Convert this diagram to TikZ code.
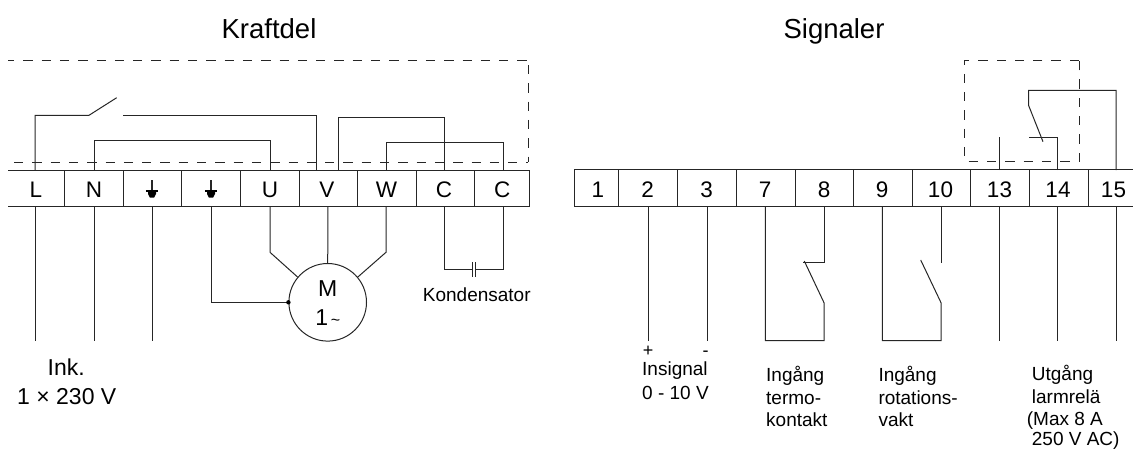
\documentclass[tikz,border=0pt]{standalone}
\usepackage{fontspec}
\setmainfont{Liberation Sans}
\tikzset{
  wire/.style={line width=1pt,line join=miter,color=black!85},
  dashbox/.style={wire,dash pattern=on 9.3pt off 9pt},
  lab/.style={anchor=base west,inner sep=0pt,font=\fontsize{19}{19}\selectfont},
  title/.style={anchor=base,inner sep=0pt,font=\fontsize{27.5}{27.5}\selectfont},
  term/.style={anchor=base,inner sep=0pt,font=\fontsize{22.5}{22.5}\selectfont},
  big/.style={anchor=base west,inner sep=0pt,font=\fontsize{23}{23}\selectfont},
  sign/.style={anchor=base,inner sep=0pt,font=\fontsize{18}{18}\selectfont},
  earthbar/.style={line width=2pt,color=black}
}
\begin{document}
\begin{tikzpicture}[x=1pt,y=-1pt]
\useasboundingbox (0,0) rectangle (1133,450);
% titles
\node[title] (t1) at (269,38) {Kraftdel};
\node[title] (t2) at (834,38) {Signaler};
% pins, left strip
\foreach \n/\x in {L/35,N/94,Ea/152,Eb/211,U/270,V/328,W/386,Ca/444.5,Cb/503.3}{
  \coordinate (\n t) at (\x,170);
  \coordinate (\n b) at (\x,206.3);
}
\coordinate (Vt) at (316.7,170);
\coordinate (Xt) at (338.7,170);
% pins, right strip
\foreach \n/\x in {s2/648.3,s3/707.3,s7/765.3,s8/824,s9/882.3,s10/941,s13/999.3,s14/1057.7,s15/1116}{
  \coordinate (\n t) at (\x,170);
  \coordinate (\n b) at (\x,206.3);
}
% terminal strips
\draw[wire] (8,170) -- (529.3,170) -- (529.3,206.3) -- (8,206.3);
\foreach \x in {64.4,123,181.7,240.3,299,357.7,416,474.7}
  \draw[wire] (\x,170) -- (\x,206.3);
\draw[wire] (1133,169.6) -- (574.3,169.6) -- (574.3,206.3) -- (1133,206.3);
\foreach \x in {618.7,677.7,736.3,795,853.7,912.3,970.7,1029.3,1088}
  \draw[wire] (\x,169.6) -- (\x,206.3);
% terminal labels
\foreach \n/\x/\t in {lL/36/L,lN/94/N,lU/270/U,lV/327/V,lW/386.5/W,lCa/444/C,lCb/502.3/C,
  n1/598/1,n2/647.7/2,n3/706.5/3,n7/765/7,n8/824/8,n9/882/9,n10/940.5/10,n13/999.5/13,n14/1058/14,n15/1113.5/15}
  \node[term] (\n) at (\x,197.4) {\t};
% earth symbols
\foreach \x in {152,211}{
  \draw[wire,line width=1.2pt] (\x,180) -- (\x,192);
  \draw[earthbar] (\x-6.2,191.3) -- (\x+6.2,191.3);
  \fill[black] (\x-4,192) -- (\x+4,192) -- (\x+4,194) -- (\x+2.2,197.5) -- (\x-2.2,197.5) -- (\x-4,194) -- cycle;
}
% dashed outlines
\draw[dashbox,dash phase=3pt] (8,60.3) -- (528.3,60.3);
\draw[dashbox] (528.3,65) -- (528.3,162);
\draw[dashbox] (14,162) -- (528.3,162);
\draw[dashbox] (1079,60) -- (964.7,60) -- (964.7,161.3) -- (1079,161.3) -- cycle;
% bridges, left
\coordinate (swA) at (89,115.3);
\coordinate (swB) at (116.7,97.7);
\draw[wire] (Lt) -- (35,115.3) -- (swA) -- (swB);
\draw[wire] (123,115.7) -- (316.7,115.7) -- (Vt);
\draw[wire] (Nt) -- (94,140.7) -- (270,140.7) -- (Ut);
\draw[wire] (Xt) -- (338.7,117.3) -- (444.5,117.3) -- (Cat);
\draw[wire] (Wt) -- (386,142.7) -- (503.3,142.7) -- (Cbt);
% supply
\draw[wire] (Lb) -- (35,340.7);
\draw[wire] (Nb) -- (94,340.7);
\draw[wire] (Eab) -- (152,340.7);
% motor
\node[draw,wire,circle,minimum size=77.6pt,inner sep=0pt] (motor) at (327.7,302.3) {};
\node[term,font=\fontsize{23}{23}\selectfont] (mM) at (327.7,296.7) {M};
\node[term,font=\fontsize{23}{23}\selectfont] (m1) at (327.7,325) {1\raisebox{0pt}{\fontsize{16}{16}\selectfont\,\~{}}};
\draw[wire] (Ub) -- (270,252.3) -- (motor.140);
\draw[wire] (Vb) -- (motor.90);
\draw[wire] (Wb) -- (386,252.3) -- (motor.40);
\draw[wire] (Ebb) -- (211,302.3) -- (motor.west);
\fill[black] (motor.west) circle (2.2pt);
% capacitor
\coordinate (capL) at (472.3,269.7);
\coordinate (capR) at (475.7,269.7);
\draw[wire] (Cab) -- (444.5,269.7) -- (capL);
\draw[wire] (Cbb) -- (503.3,269.7) -- (capR);
\draw[wire] (472.3,262.3) -- (472.3,277.3);
\draw[wire] (475.7,262.3) -- (475.7,277.3);
\node[lab] (kond) at (422.7,301.7) {Kondensator};
% left labels
\node[big] (ink) at (47.5,375) {Ink.};
\node[big] (volt) at (17,404) {1 × 230 V};
% signals
\draw[wire] (s2b) -- (648.3,340.7);
\draw[wire] (s3b) -- (707.3,340.7);
\coordinate (thA) at (802.7,262.7);
\draw[wire] (s8b) -- (824,262.7) -- (thA);
\draw[wire] (804.3,261) -- (824,302.7) -- (824,340.7) -- (765.3,340.7) -- (s7b);
\draw[wire] (s10b) -- (941,262.7);
\draw[wire] (920.7,260) -- (941,302.7) -- (941,340.7) -- (882.3,340.7) -- (s9b);
% relay
\draw[wire] (s13t) -- (999.3,137.3);
\draw[wire] (s14t) -- (1057.7,137.3) -- (1029.3,137.3);
\draw[wire] (s15t) -- (1116,90.3) -- (1028.7,90.3) -- (1028.7,105.7) -- (1043,141.7);
\draw[wire] (s13b) -- (999.3,340.7);
\draw[wire] (s14b) -- (1057.7,340.7);
\draw[wire] (s15b) -- (1116,340.7);
% signal labels
\node[sign] (plus) at (648,356) {+};
\node[sign] (minus) at (705.7,356) {-};
\node[lab] (i1) at (642,375.7) {Insignal};
\node[lab] (i2) at (642,399) {0 - 10 V};
\node[lab] (a1) at (766,381.7) {Ingång};
\node[lab] (a2) at (766,404) {termo-};
\node[lab] (a3) at (766,426.7) {kontakt};
\node[lab] (b1) at (878.3,381.7) {Ingång};
\node[lab] (b2) at (878.3,404) {rotations-};
\node[lab] (b3) at (878.3,426.7) {vakt};
\node[lab] (c1) at (1031.7,380.7) {Utgång};
\node[lab] (c2) at (1031.7,403.5) {larmrelä};
\node[lab] (c3) at (1026.7,425.5) {(Max 8 A};
\node[lab] (c4) at (1031.7,445.5) {250 V AC)};
\end{tikzpicture}
\end{document}
